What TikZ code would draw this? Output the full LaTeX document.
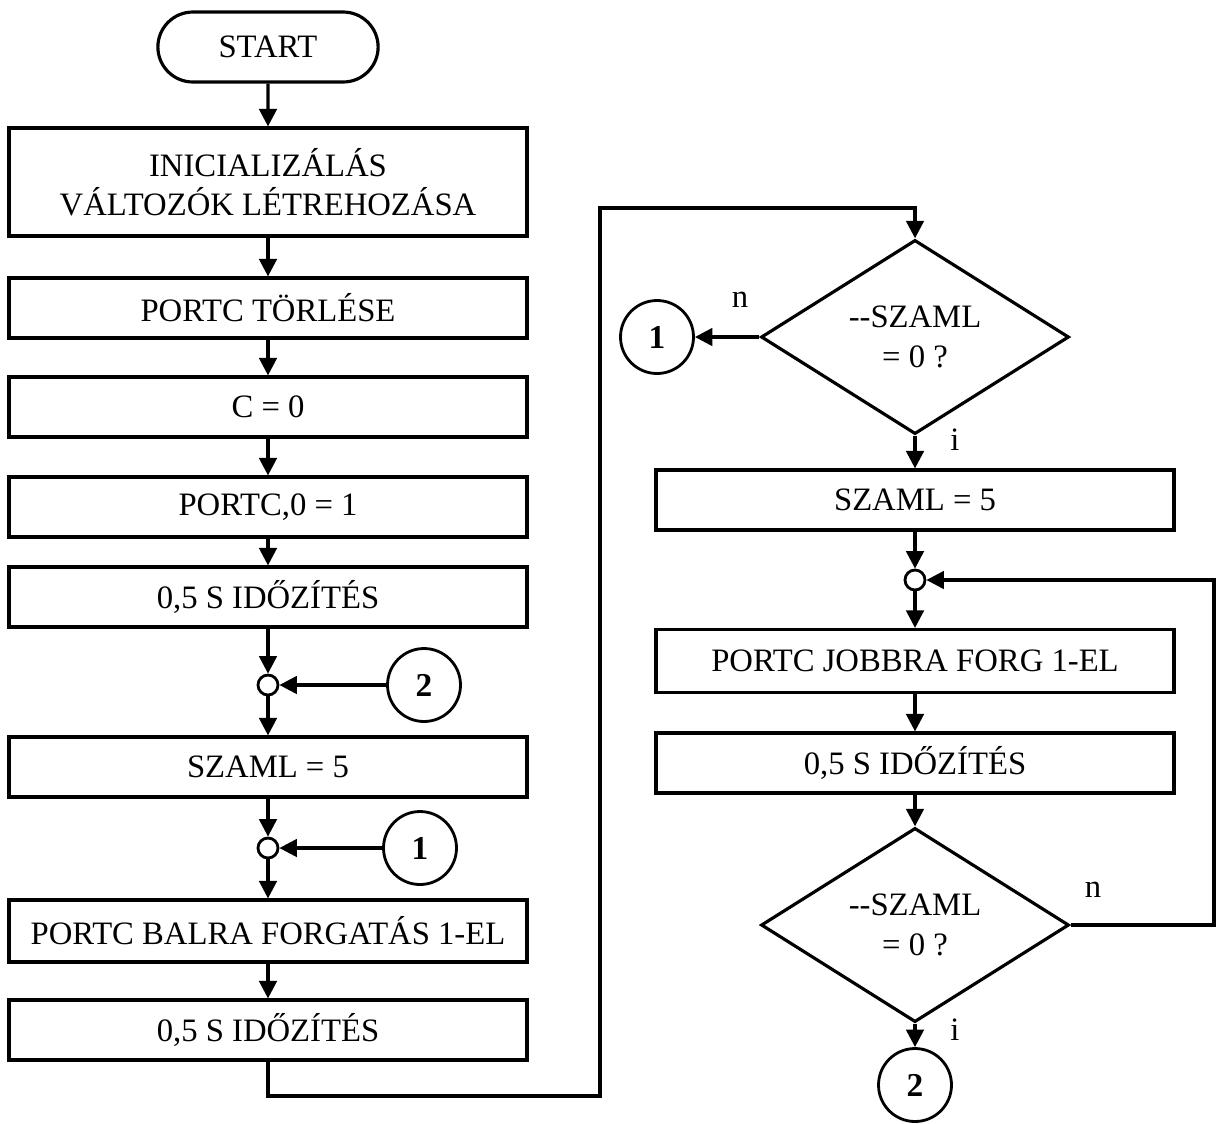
\documentclass[tikz,border=0pt]{standalone}
\usepackage{fontspec}
\setmainfont{Liberation Serif}
\usetikzlibrary{shapes.geometric,shapes.misc,arrows.meta}

\begin{document}
\begin{tikzpicture}[x=0.02cm,y=-0.02cm,
        every node/.style={font=\fontsize{18.6}{22.5}\selectfont},
        box/.style={draw, line width=1.8pt, minimum width=10.36cm, minimum height=1.2cm, align=center, inner sep=0pt},
        pill/.style={rounded rectangle, draw, line width=1.8pt, minimum width=4.64cm, minimum height=1.4cm},
        dec/.style={diamond, draw, line width=1.8pt, minimum width=6.16cm, minimum height=3.6cm, inner sep=0pt, align=center},
        conn/.style={circle, draw, line width=1.6pt, minimum size=1.46cm, inner sep=0pt, font=\fontsize{19}{22}\selectfont\bfseries},
        junc/.style={circle, draw, line width=1.6pt, minimum size=0.4cm, inner sep=0pt},
        arr/.style={-{Triangle[length=10pt,width=10pt]}, line width=1.8pt},
        ln/.style={line width=1.8pt}]
    \useasboundingbox (0,0) rectangle (1216,1123);

    % left column
    \node[pill] (start) at (268, 47) {START};
    \node[box, minimum height=2.16cm] (b1) at (268, 182) {INICIALIZÁLÁS\\VÁLTOZÓK LÉTREHOZÁSA};
    \node[box] (b2) at (268, 308) {PORTC TÖRLÉSE};
    \node[box] (b3) at (268, 407) {C = 0};
    \node[box] (b4) at (268, 507) {PORTC,0 = 1};
    \node[box] (b5) at (268, 597) {0,5 S IDŐZÍTÉS};
    \node[junc] (j1) at (268, 685) {};
    \node[conn] (c2a) at (424, 685) {2};
    \node[box] (b6) at (268, 767) {SZAML = 5};
    \node[junc] (j2) at (268, 848) {};
    \node[conn] (c1a) at (420, 848) {1};
    \node[box, minimum height=1.24cm] (b7) at (268, 931) {PORTC BALRA FORGATÁS 1-EL};
    \node[box] (b8) at (268, 1030) {0,5 S IDŐZÍTÉS};

    % right column
    \node[dec] (d1) at (915, 337) {-\kern0pt-SZAML\\= 0 ?};
    \node[conn] (c1b) at (657, 337) {1};
    \node[box] (b9) at (915, 500) {SZAML = 5};
    \node[junc] (j3) at (915, 580) {};
    \node[box, minimum height=1.26cm] (b10) at (915, 661) {PORTC JOBBRA FORG 1-EL};
    \node[box] (b11) at (915, 763) {0,5 S IDŐZÍTÉS};
    \node[dec] (d2) at (915, 925) {-\kern0pt-SZAML\\= 0 ?};
    \node[conn] (c2b) at (915, 1085) {2};

    % branch labels
    \node (n1) at (740, 300) {n};
    \node (i1) at (955, 440) {i};
    \node (n2) at (1093, 890) {n};
    \node (i2) at (955, 1030) {i};

    \coordinate (lb) at (600, 1096);
    \coordinate (lt) at (600, 208);
    \coordinate (rr) at (1214, 925);

    \draw[arr] (start) -- (b1);
    \draw[arr] (b1) -- (b2);
    \draw[arr] (b2) -- (b3);
    \draw[arr] (b3) -- (b4);
    \draw[arr] (b4) -- (b5);
    \draw[arr] (b5) -- (j1);
    \draw[arr] (c2a) -- (j1);
    \draw[arr] (j1) -- (b6);
    \draw[arr] (b6) -- (j2);
    \draw[arr] (c1a) -- (j2);
    \draw[arr] (j2) -- (b7);
    \draw[arr] (b7) -- (b8);
    \draw[arr] (b8.south) |- (lb) -- (lt) -| (d1.north);

    \draw[arr] (d1.west) -- (c1b);
    \draw[arr] (d1.south) -- (b9);
    \draw[arr] (b9) -- (j3);
    \draw[arr] (j3) -- (b10);
    \draw[arr] (b10) -- (b11);
    \draw[arr] (b11) -- (d2.north);
    \draw[arr] (d2.south) -- (c2b);
    \draw[arr] (d2.east) -- (rr) |- (j3.east);
\end{tikzpicture}
\end{document}
